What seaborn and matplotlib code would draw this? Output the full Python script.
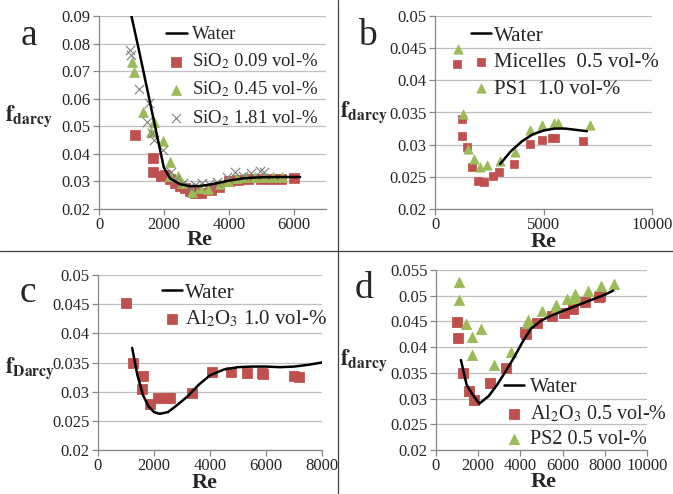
import matplotlib
matplotlib.use("Agg")
import matplotlib.pyplot as plt
from matplotlib.lines import Line2D
from matplotlib.ticker import FuncFormatter, MultipleLocator
import seaborn as sns

# --- data ---
# a: SiO2 nanofluids
water_a_re = [1000, 1250, 1500, 1750, 2000, 2200, 2500, 2800, 3100, 3500, 4000, 4500, 5000, 5500, 6200]
water_a_f = [0.090, 0.0766, 0.0627, 0.0488, 0.035, 0.031, 0.029, 0.0283, 0.0283, 0.0290, 0.0303, 0.0312, 0.0315, 0.0316, 0.0316]
sio2_009_re = [1100, 1680, 1660, 1900, 2050, 2200, 2350, 2500, 2650, 2800, 2950, 3150, 3450, 3700, 4000, 4300, 4600, 5000, 5300, 5600, 6000]
sio2_009_f = [0.047, 0.0386, 0.0333, 0.0318, 0.0325, 0.031, 0.0295, 0.0285, 0.0276, 0.0265, 0.0258, 0.0258, 0.0268,
              0.0278, 0.0300, 0.0305, 0.031, 0.031, 0.031, 0.031, 0.0312]
sio2_045_re = [1010, 1080, 1350, 1600, 1700, 1960, 2200, 2180, 2450, 2560, 2860, 3120, 3370, 3730, 3990, 4250, 4500,
               4800, 5100, 5380, 5640]
sio2_045_f = [0.0732, 0.0697, 0.0553, 0.0478, 0.0517, 0.0445, 0.0372, 0.0318, 0.0318, 0.0296, 0.0260, 0.0277, 0.0272,
              0.0289, 0.0303, 0.0312, 0.0315, 0.0315, 0.0316, 0.0316, 0.0316]
sio2_181_re = [960, 990, 1245, 1470, 1550, 1625, 1700, 1965, 2210, 2350, 2600, 2800, 2960, 3170, 3400, 3630, 3940,
               4200, 4450, 4700, 4950, 5100]
sio2_181_f = [0.0778, 0.0760, 0.0634, 0.0517, 0.0583, 0.0475, 0.045, 0.0415, 0.0334, 0.0305, 0.0293, 0.0280, 0.0287,
              0.0293, 0.0290, 0.0299, 0.0317, 0.0335, 0.0320, 0.0330, 0.0337, 0.0335]

# b: micelles / PS1
water_b_re = [3000, 3500, 4000, 4500, 5000, 5500, 6000, 6500, 7000]
water_b_f = [0.0270, 0.0290, 0.0305, 0.0316, 0.0322, 0.0325, 0.0325, 0.0323, 0.0321]
micelles_re = [1000, 1262, 1262, 1490, 1690, 1970, 2277, 2660, 2970, 3646, 4385, 4923, 5385, 5540, 6815]
micelles_f = [0.0425, 0.034, 0.0313, 0.0297, 0.0265, 0.0244, 0.0242, 0.0252, 0.0258, 0.027, 0.0301, 0.0308, 0.0311,
              0.031, 0.0305]
ps1_re = [1080, 1277, 1540, 1815, 2077, 2385, 3000, 3690, 4385, 4920, 5500, 5650, 7150]
ps1_f = [0.0448, 0.0347, 0.0293, 0.0278, 0.0265, 0.0268, 0.0274, 0.0289, 0.0323, 0.033, 0.0333, 0.0334, 0.033]

# c: Al2O3 1.0 vol-%
water_c_re = [1220, 1400, 1600, 1800, 2000, 2200, 2500, 2800, 3200, 3600, 4000, 4500, 5000, 5500, 6000, 6500, 7000,
              7500, 8000]
water_c_f = [0.0375, 0.033, 0.0295, 0.0275, 0.0265, 0.0262, 0.0265, 0.0276, 0.0292, 0.0312, 0.0328, 0.0338, 0.0342,
             0.0343, 0.0343, 0.0342, 0.0343, 0.0346, 0.035]
al2o3_10_re = [1017, 1255, 1613, 1555, 1853, 2150, 2450, 2570, 3347, 4064, 4756, 5318, 5856, 5900, 6990, 7190]
al2o3_10_f = [0.0452, 0.035, 0.0327, 0.0305, 0.0279, 0.0289, 0.0289, 0.029, 0.0297, 0.0333, 0.0333, 0.0332, 0.0332,
              0.0330, 0.0327, 0.0325]

# d: Al2O3 0.5 vol-% / PS2
water_d_re = [1180, 1450, 1700, 2050, 2500, 2900, 3300, 3700, 4100, 4500, 5000, 5500, 6000, 6500, 7000, 7500, 8000, 8400]
water_d_f = [0.0375, 0.0327, 0.031, 0.029, 0.0305, 0.0327, 0.0353, 0.038, 0.041, 0.0436, 0.0452, 0.0462, 0.047,
             0.0478, 0.0486, 0.0494, 0.0502, 0.051]
al2o3_05_re = [1015, 1062, 1300, 1586, 1824, 2570, 3333, 4240, 4280, 4795, 5510, 6060, 6510, 7050, 7730, 7760]
al2o3_05_f = [0.0448, 0.0417, 0.035, 0.0314, 0.0297, 0.0331, 0.0359, 0.0429, 0.0425, 0.0446, 0.0461, 0.0467, 0.0475,
              0.0487, 0.0497, 0.0499]
ps2_re = [1110, 1110, 1430, 1700, 1700, 2130, 2730, 3570, 4320, 4340, 5030, 5670, 5670, 6220, 6570, 6570, 7200, 7810, 8440]
ps2_f = [0.0526, 0.0492, 0.0445, 0.042, 0.0384, 0.0436, 0.0365, 0.039, 0.0447, 0.0453, 0.0471, 0.0482, 0.0476, 0.0494,
         0.0503, 0.0496, 0.051, 0.0518, 0.0522]

RED = '#C0504D'
GREEN = '#9BBB59'
GRAY = '#7F7F7F'
SERIF = ['Liberation Serif', 'DejaVu Serif']

sns.set_style("white")
plt.rcParams['font.family'] = SERIF
plt.rcParams['mathtext.fontset'] = 'stix'

W, H = 673, 494
fig = plt.figure(figsize=(W / 100, H / 100), dpi=100)


def px_axes(left, top, right, bottom):
    return fig.add_axes([left / W, 1 - bottom / H, (right - left) / W, (bottom - top) / H])


def style(ax, xmax, xstep, ymin, ymax, ystep):
    ax.set_xlim(0, xmax)
    ax.set_ylim(ymin, ymax)
    ax.xaxis.set_major_locator(MultipleLocator(xstep))
    ax.yaxis.set_major_locator(MultipleLocator(ystep))
    fmt = FuncFormatter(lambda v, p: f'{round(v, 4):g}')
    ax.xaxis.set_major_formatter(fmt)
    ax.yaxis.set_major_formatter(fmt)
    ax.grid(axis='y', color='#BFBFBF', linewidth=0.9)
    ax.grid(axis='x', visible=False)
    for s in ['top', 'right']:
        ax.spines[s].set_visible(False)
    for s in ['left', 'bottom']:
        ax.spines[s].set_color('#868686')
        ax.spines[s].set_linewidth(0.9)
    ax.tick_params(axis='both', direction='out', length=4, width=0.9, color='#868686',
                   labelsize=12, pad=2, left=True, bottom=True, labelfontfamily='Liberation Serif')
    ax.set_axisbelow(True)


def legend(ax, x, y, fs, hl, htp, ls):
    ax.legend(loc='upper left', bbox_to_anchor=(x / W, 1 - y / H), bbox_transform=fig.transFigure,
              frameon=False, fontsize=fs, handlelength=hl, handletextpad=htp, labelspacing=ls,
              borderpad=0, borderaxespad=0)


def water(ax, re, f):
    sns.lineplot(x=re, y=f, ax=ax, color='black', linewidth=1.8, sort=False, estimator=None,
                 label='Water', zorder=5)


def ylabel(x, y, sub):
    fig.text(x / W, 1 - y / H, r'$\mathbf{f}_{\mathbf{%s}}$' % sub, fontsize=16, ha='left', va='center')


def xlabel(ax, x, y):
    ax.set_xlabel('Re', fontsize=16, fontweight='bold')
    ax.xaxis.set_label_coords(x, y)
    ax.xaxis.label.set_va('center')


# ---- a ----
ax = px_axes(99, 16, 326, 209)
water(ax, water_a_re, water_a_f)
sns.scatterplot(x=sio2_009_re, y=sio2_009_f, ax=ax, marker='s', s=45, color=RED, edgecolor=RED,
                label=r'SiO$_2$ 0.09 vol-%', zorder=3)
sns.scatterplot(x=sio2_045_re, y=sio2_045_f, ax=ax, marker='^', s=50, color=GREEN, edgecolor=GREEN,
                label=r'SiO$_2$ 0.45 vol-%', zorder=3)
sns.scatterplot(x=sio2_181_re, y=sio2_181_f, ax=ax, marker='x', s=45, color=GRAY, linewidth=0.8,
                label=r'SiO$_2$ 1.81 vol-%', zorder=4)
style(ax, 7000, 2000, 0.02, 0.09, 0.01)
legend(ax, 166, 26, 13.5, 1.1, 0.3, 0.45)
xlabel(ax, 0.445, -0.16)

# ---- b ----
ax = px_axes(435, 16, 652, 209)
water(ax, water_b_re, water_b_f)
sns.scatterplot(x=micelles_re, y=micelles_f, ax=ax, marker='s', s=40, color=RED, edgecolor=RED,
                label='Micelles  0.5 vol-%', zorder=3)
sns.scatterplot(x=ps1_re, y=ps1_f, ax=ax, marker='^', s=45, color=GREEN, edgecolor=GREEN,
                label='PS1  1.0 vol-%', zorder=3)
style(ax, 10000, 5000, 0.02, 0.05, 0.005)
legend(ax, 471, 26, 15, 0.95, 0.15, 0.33)
xlabel(ax, 0.5, -0.17)

# ---- c ----
ax = px_axes(98, 275, 322, 450)
water(ax, water_c_re, water_c_f)
sns.scatterplot(x=al2o3_10_re, y=al2o3_10_f, ax=ax, marker='s', s=50, color=RED, edgecolor=RED,
                label=r'Al$_2$O$_3$ 1.0 vol-%', zorder=3)
style(ax, 8000, 2000, 0.02, 0.05, 0.005)
legend(ax, 162, 283, 15, 0.95, 0.15, 0.3)
xlabel(ax, 0.475, -0.19)

# ---- d ----
ax = px_axes(436, 270, 647, 450)
water(ax, water_d_re, water_d_f)
sns.scatterplot(x=al2o3_05_re, y=al2o3_05_f, ax=ax, marker='s', s=55, color=RED, edgecolor=RED,
                label=r'Al$_2$O$_3$ 0.5 vol-%', zorder=3)
sns.scatterplot(x=ps2_re, y=ps2_f, ax=ax, marker='^', s=55, color=GREEN, edgecolor=GREEN,
                label='PS2 0.5 vol-%', zorder=3)
style(ax, 10000, 2000, 0.02, 0.055, 0.005)
legend(ax, 504, 378, 14.5, 1.0, 0.3, 0.3)
xlabel(ax, 0.51, -0.18)

# y labels and panel letters
ylabel(5, 116, 'darcy')
ylabel(340, 112, 'darcy')
ylabel(5, 368, 'Darcy')
ylabel(340, 360, 'darcy')
for letter, x, y in [('a', 29, 36), ('b', 367, 36), ('c', 28, 293), ('d', 364, 289)]:
    fig.text(x / W, 1 - y / H, letter, fontsize=27, ha='center', va='center')

# panel dividers
fig.add_artist(Line2D([0, 1], [1 - 251 / H] * 2, color='#404040', linewidth=0.9))
fig.add_artist(Line2D([338 / W] * 2, [0, 1], color='#404040', linewidth=0.9))

fig.savefig('out.png', dpi=100)
